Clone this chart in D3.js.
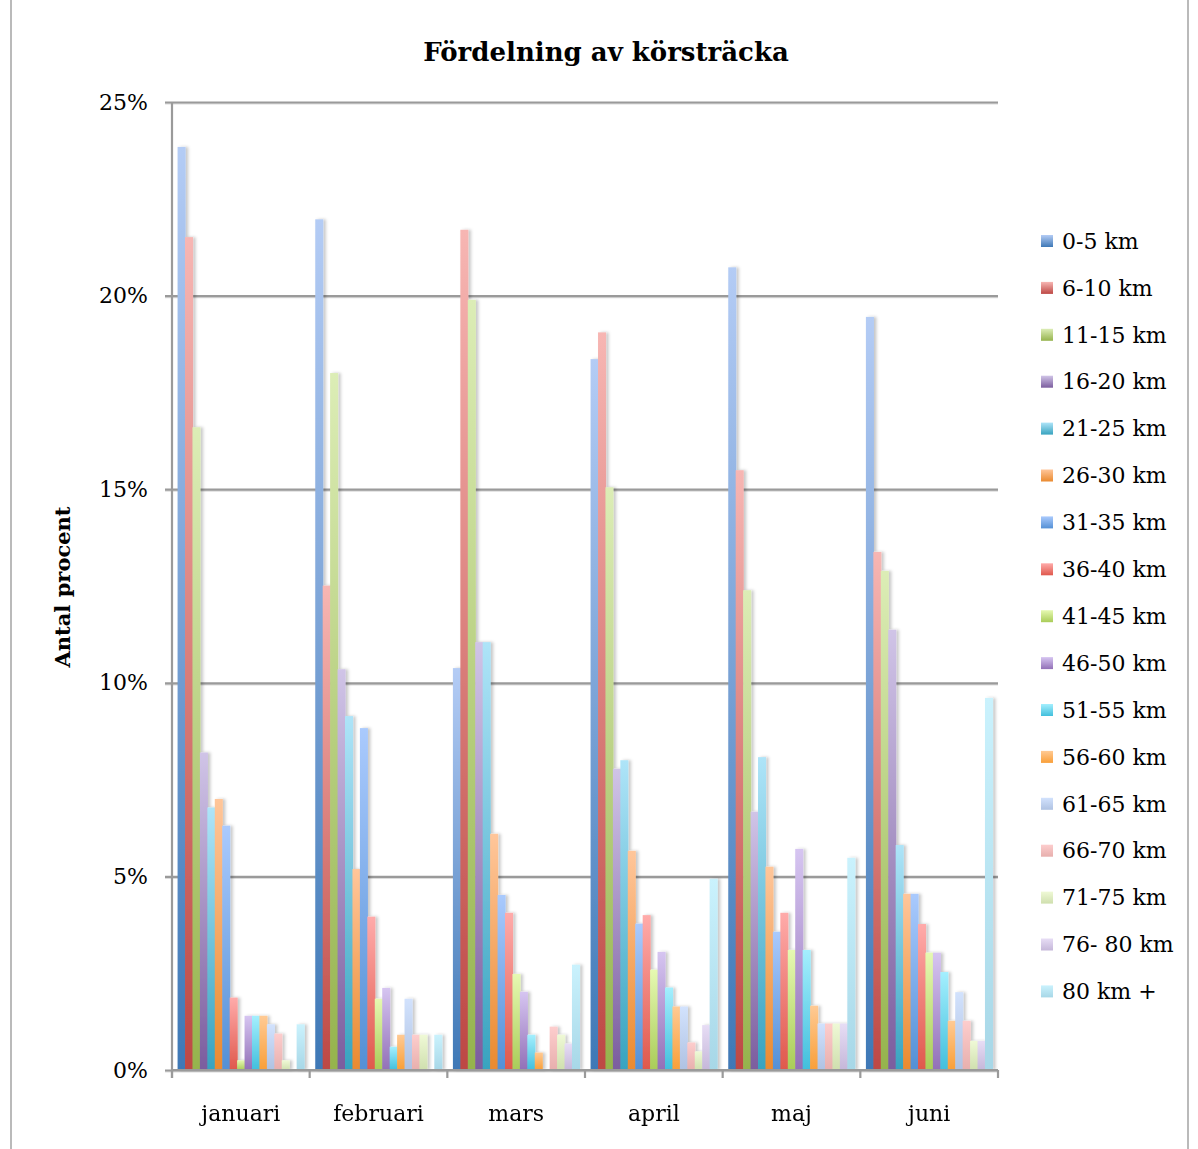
<!DOCTYPE html>
<html>
<head>
<meta charset="utf-8">
<script src="https://cdn.jsdelivr.net/npm/d3@7"></script>
<style>
  html, body { margin: 0; padding: 0; background: #fff; }
  svg { display: block; }
  text { font-family: "DejaVu Serif", "Liberation Serif", serif; fill: #000; }
</style>
</head>
<body>
<svg id="chart" width="1198" height="1149"></svg>
<script>
// Months on the category axis
const months = ["januari", "februari", "mars", "april", "maj", "juni"];

// Distance classes (one bar series each)
const classes = ["0-5 km", "6-10 km", "11-15 km", "16-20 km", "21-25 km", "26-30 km",
  "31-35 km", "36-40 km", "41-45 km", "46-50 km", "51-55 km", "56-60 km",
  "61-65 km", "66-70 km", "71-75 km", "76- 80 km", "80 km +"];

// Share of trips (%) per month, one array per distance class
const km0_5   = [23.84, 21.97, 10.38, 18.36, 20.73, 19.45];
const km6_10  = [21.51, 12.51, 21.70, 19.05, 15.49, 13.38];
const km11_15 = [16.60, 18.00, 19.89, 15.05, 12.39, 12.89];
const km16_20 = [8.20, 10.35, 11.05, 7.78, 6.67, 11.37];
const km21_25 = [6.78, 9.14, 11.05, 8.00, 8.08, 5.81];
const km26_30 = [7.00, 5.19, 6.10, 5.66, 5.25, 4.55];
const km31_35 = [6.31, 8.83, 4.52, 3.78, 3.57, 4.55];
const km36_40 = [1.87, 3.96, 4.06, 4.00, 4.06, 3.77];
const km41_45 = [0.25, 1.84, 2.48, 2.59, 3.10, 3.03];
const km46_50 = [1.40, 2.12, 2.02, 3.05, 5.71, 3.03];
const km51_55 = [1.40, 0.60, 0.91, 2.13, 3.10, 2.53];
const km56_60 = [1.40, 0.91, 0.45, 1.64, 1.66, 1.27];
const km61_65 = [1.18, 1.84, 0.00, 1.64, 1.20, 2.01];
const km66_70 = [0.94, 0.91, 1.12, 0.71, 1.20, 1.27];
const km71_75 = [0.25, 0.91, 0.91, 0.48, 1.20, 0.75];
const km76_80 = [0.00, 0.00, 0.68, 1.16, 1.20, 0.75];
const km80p   = [1.18, 0.91, 2.72, 4.94, 5.48, 9.61];

const seriesValues = [km0_5, km6_10, km11_15, km16_20, km21_25, km26_30, km31_35,
  km36_40, km41_45, km46_50, km51_55, km56_60, km61_65, km66_70, km71_75, km76_80, km80p];

// Value axis ticks (%)
const yTicks = [0, 5, 10, 15, 20, 25];

// Gradient stops per series: [top, bottom]
const seriesColors = [
  ["#b4ccf5", "#3e78b6"], ["#f7b6b3", "#bd4844"], ["#dcedb6", "#95b34d"],
  ["#d0c4e7", "#7b5d9e"], ["#aee4f8", "#38a3bf"], ["#ffc69a", "#ea8a2f"],
  ["#aacafd", "#5490d5"], ["#ffabaa", "#df584c"], ["#e6f9b2", "#a9cc58"],
  ["#d6c5f1", "#9270b7"], ["#a4effe", "#42bfdc"], ["#ffca94", "#f99f38"],
  ["#d2e2fd", "#afc2e2"], ["#fdcdcd", "#e7afad"], ["#eff9d6", "#cfdfae"],
  ["#e7ddf5", "#c5b7d9"], ["#caf2fd", "#a7d7e7"]
];

const svg = d3.select("#chart");
const defs = svg.append("defs");

seriesColors.forEach((c, i) => {
  const g = defs.append("linearGradient")
    .attr("id", "grad" + i)
    .attr("x1", 0).attr("y1", 0).attr("x2", 0).attr("y2", 1);
  g.append("stop").attr("offset", "0%").attr("stop-color", c[0]);
  g.append("stop").attr("offset", "100%").attr("stop-color", c[1]);
});

const barShadow = defs.append("filter").attr("id", "barShadow")
  .attr("filterUnits", "userSpaceOnUse")
  .attr("x", 0).attr("y", 0).attr("width", 1198).attr("height", 1149);
barShadow.append("feDropShadow").attr("dx", 2.5).attr("dy", 0)
  .attr("stdDeviation", 1.6).attr("flood-color", "#000").attr("flood-opacity", 0.22);

// Outer chart frame
svg.append("line").attr("x1", 11).attr("x2", 11).attr("y1", 0).attr("y2", 1149)
  .attr("stroke", "#8c8c8c").attr("stroke-width", 1.2);
svg.append("line").attr("x1", 1188).attr("x2", 1188).attr("y1", 0).attr("y2", 1149)
  .attr("stroke", "#8c8c8c").attr("stroke-width", 1.2);

const plot = { left: 172, right: 998, top: 102, bottom: 1070 };
const axisGrey = "#9a9a9a";

const x0 = d3.scaleBand().domain(months).range([plot.left, plot.right]).padding(0);
const x1 = d3.scaleBand().domain(d3.range(classes.length))
  .range([0, x0.bandwidth()]).paddingInner(0).paddingOuter(0.75);
const y = d3.scaleLinear().domain([0, 25]).range([plot.bottom, plot.top]);

// Soft shadow under each gridline
svg.append("g").selectAll("line").data(yTicks).join("line")
  .attr("x1", plot.left - 7).attr("x2", plot.right)
  .attr("y1", d => y(d) + 1.8).attr("y2", d => y(d) + 1.8)
  .attr("stroke", "#dcdcdc").attr("stroke-width", 1.6);

// Gridlines + value labels
const yAxis = d3.axisLeft(y).tickValues(yTicks)
  .tickFormat(d => d + "%")
  .tickSizeInner(-(plot.right - (plot.left - 7)))
  .tickSizeOuter(0).tickPadding(17);
const gy = svg.append("g").attr("transform", `translate(${plot.left - 7},0)`).call(yAxis);
gy.select(".domain").remove();
gy.selectAll(".tick line").attr("stroke", axisGrey).attr("stroke-width", 2.2);
gy.selectAll(".tick text").attr("font-size", 22).attr("fill", "#000")
  .style("font-family", "'DejaVu Serif', serif");

// Bars
const groups = svg.append("g").attr("filter", "url(#barShadow)")
  .selectAll("g.month").data(months).join("g")
  .attr("class", "month")
  .attr("transform", d => `translate(${x0(d)},0)`);

groups.selectAll("rect")
  .data((m, mi) => seriesValues.map((vals, si) => ({ si, v: vals[mi] })))
  .join("rect")
  .attr("x", d => x1(d.si))
  .attr("width", x1.bandwidth() + 0.6)
  .attr("y", d => y(d.v))
  .attr("height", d => y(0) - y(d.v))
  .attr("fill", d => `url(#grad${d.si})`);

// Left value axis line
svg.append("line")
  .attr("x1", plot.left).attr("x2", plot.left)
  .attr("y1", y(25)).attr("y2", plot.bottom + 8)
  .attr("stroke", axisGrey).attr("stroke-width", 2.2);

// Category axis: baseline, boundary ticks and month labels
svg.append("line")
  .attr("x1", plot.left).attr("x2", plot.right)
  .attr("y1", plot.bottom).attr("y2", plot.bottom)
  .attr("stroke", axisGrey).attr("stroke-width", 2.2);

const boundaries = months.map(m => x0(m)).concat([plot.right]);
svg.append("g").selectAll("line").data(boundaries).join("line")
  .attr("x1", d => d).attr("x2", d => d)
  .attr("y1", plot.bottom).attr("y2", plot.bottom + 8)
  .attr("stroke", axisGrey).attr("stroke-width", 2.2);

const xAxis = d3.axisBottom(x0).tickSize(0).tickPadding(35);
const gx = svg.append("g").attr("transform", `translate(0,${plot.bottom})`).call(xAxis);
gx.select(".domain").remove();
gx.selectAll(".tick text").attr("font-size", 22).attr("fill", "#000")
  .style("font-family", "'DejaVu Serif', serif");

// Title
svg.append("text")
  .attr("x", 606).attr("y", 61)
  .attr("text-anchor", "middle")
  .attr("font-size", 26).attr("font-weight", "bold")
  .text("Fördelning av körsträcka");

// Value axis title
svg.append("text")
  .attr("transform", "translate(70,587) rotate(-90)")
  .attr("text-anchor", "middle")
  .attr("font-size", 21).attr("font-weight", "bold")
  .text("Antal procent");

// Legend
const legend = svg.append("g").attr("transform", "translate(1041,241)");
const rows = legend.selectAll("g").data(classes).join("g")
  .attr("transform", (d, i) => `translate(0,${i * 46.9})`);
rows.append("rect")
  .attr("x", 0).attr("y", -6).attr("width", 12).attr("height", 12)
  .attr("fill", (d, i) => `url(#grad${i})`);
rows.append("text")
  .attr("x", 21).attr("y", 0).attr("dy", "0.35em")
  .attr("font-size", 22)
  .text(d => d);
</script>
</body>
</html>
